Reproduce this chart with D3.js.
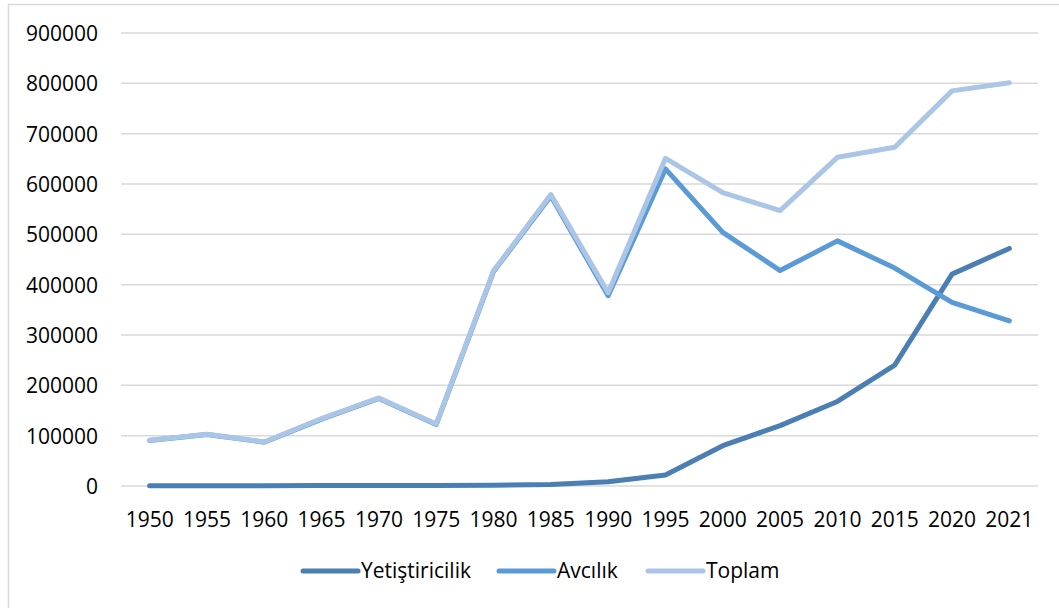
<!DOCTYPE html>
<meta charset="utf-8">
<html>
  <head>
    <script src="https://d3js.org/d3.v7.min.js"></script>
    <style>
      body { margin: 0; background: #fff; font-family: "Open Sans", sans-serif; }
      .grid line { stroke: #d9d9d9; stroke-width: 1.5px; }
      .axis text { fill: #000; font-size: 21px; font-family: "Open Sans", sans-serif; }
      .serie { fill: none; stroke-width: 5px; stroke-linejoin: round; stroke-linecap: round; }
    </style>
  </head>
  <body>
    <svg id="chart" width="1059" height="608"></svg>
    <script>
      // veriler
      const yillar = ["1950","1955","1960","1965","1970","1975","1980","1985","1990","1995","2000","2005","2010","2015","2020","2021"];
      const yetistiricilik = [500, 500, 500, 800, 1000, 1200, 1500, 3000, 8500, 22000, 80000, 120000, 168000, 240000, 421000, 472000];
      const avcilik = [90500, 102500, 87000, 133000, 174000, 122000, 426000, 576000, 378000, 630000, 504000, 428000, 487000, 433000, 365000, 328000];
      const toplam = [91000, 103000, 87500, 134000, 175000, 123000, 427500, 579000, 384000, 651000, 583000, 547000, 653000, 673000, 785000, 801000];
      const yTicks = [0, 100000, 200000, 300000, 400000, 500000, 600000, 700000, 800000, 900000];

      const seriler = [
        { ad: "Yetiştiricilik", degerler: yetistiricilik, renk: "#4b7fb3" },
        { ad: "Avcılık", degerler: avcilik, renk: "#5b9bd5" },
        { ad: "Toplam", degerler: toplam, renk: "#abc5e6" }
      ];

      const svg = d3.select("#chart");

      // çerçeve
      svg.append("rect")
        .attr("x", 8.5).attr("y", 4.5)
        .attr("width", 1070).attr("height", 620)
        .attr("fill", "none").attr("stroke", "#d9d9d9").attr("stroke-width", 1.5);

      const x = d3.scaleBand().domain(yillar).range([121, 1038]);
      const y = d3.scaleLinear().domain([0, 900000]).range([486, 33]);

      // yatay çizgiler
      svg.append("g").attr("class", "grid")
        .selectAll("line")
        .data(yTicks)
        .enter().append("line")
          .attr("x1", 121).attr("x2", 1038)
          .attr("y1", d => y(d)).attr("y2", d => y(d));

      // y ekseni
      const yAxis = svg.append("g").attr("class", "axis")
        .attr("transform", "translate(98,0)")
        .call(d3.axisLeft(y).tickValues(yTicks).tickSize(0).tickPadding(0).tickFormat(d3.format("d")));
      yAxis.select(".domain").remove();
      yAxis.selectAll("text").attr("dy", "0.35em");

      // x ekseni
      const xAxis = svg.append("g").attr("class", "axis")
        .attr("transform", "translate(0,520)")
        .call(d3.axisBottom(x).tickSize(0).tickPadding(0));
      xAxis.select(".domain").remove();
      xAxis.selectAll("text").attr("dy", "0.35em");

      const line = d3.line()
        .x((d, i) => x(yillar[i]) + x.bandwidth() / 2)
        .y(d => y(d));

      svg.selectAll("path.serie")
        .data(seriler)
        .enter().append("path")
          .attr("class", "serie")
          .attr("stroke", d => d.renk)
          .attr("d", d => line(d.degerler));

      // lejant
      const lejantX = [303, 499, 648];
      const lejant = svg.selectAll("g.lejant")
        .data(seriler)
        .enter().append("g")
          .attr("class", "lejant")
          .attr("transform", (d, i) => `translate(${lejantX[i]},571)`);
      lejant.append("line")
        .attr("x1", 0).attr("x2", 55)
        .attr("stroke", d => d.renk)
        .attr("stroke-width", 5)
        .attr("stroke-linecap", "round");
      lejant.append("text")
        .attr("x", 58).attr("dy", "0.35em")
        .style("font-size", "21px")
        .text(d => d.ad);
    </script>
  </body>
</html>
